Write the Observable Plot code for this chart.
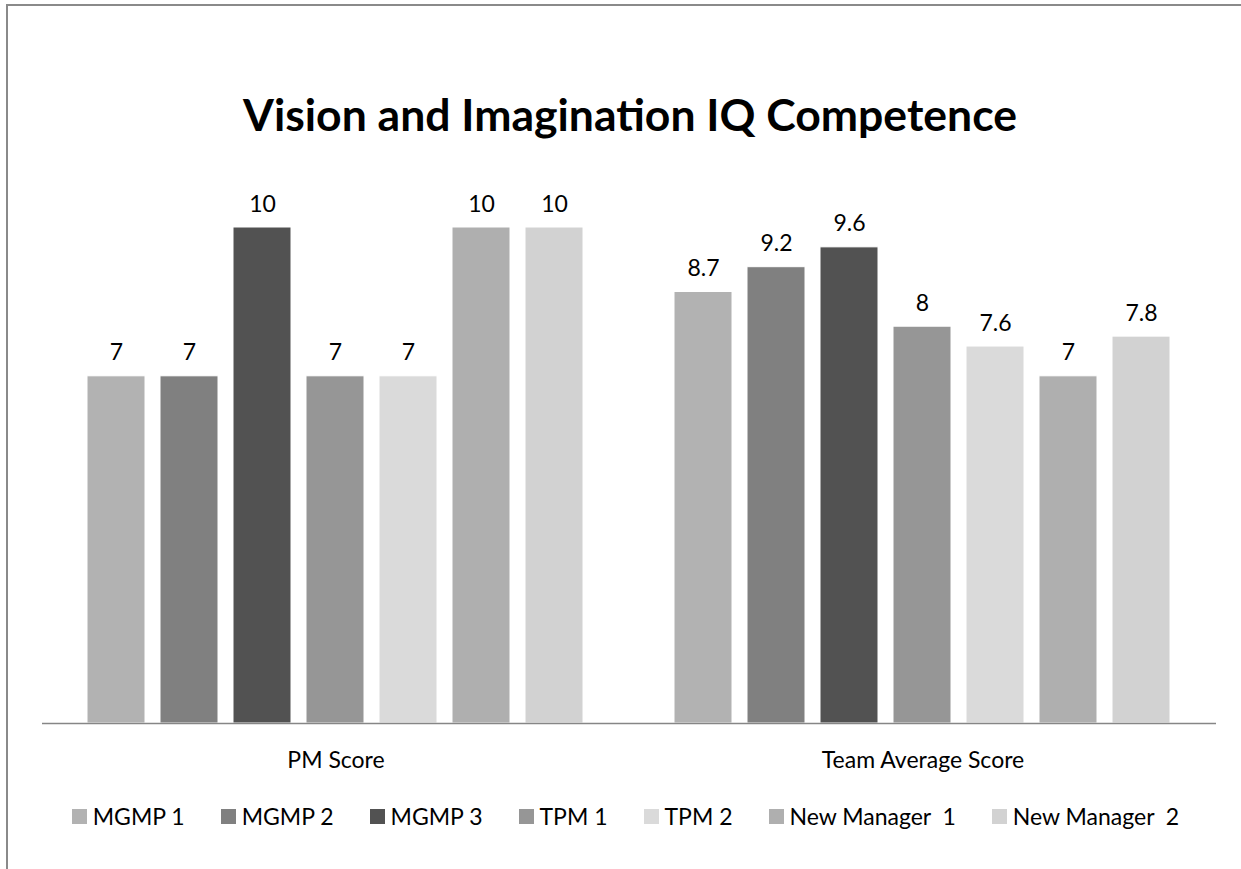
<!DOCTYPE html>
<html><head><meta charset="utf-8">
<script src="https://cdn.jsdelivr.net/npm/d3@7"></script>
<script src="https://cdn.jsdelivr.net/npm/@observablehq/plot@0.6"></script>
<style>
body{margin:0;background:#fff;font-family:Lato,"Open Sans",sans-serif;}
#page{position:relative;width:1241px;height:869px;overflow:hidden;background:#fff;}
#frame{position:absolute;left:6px;top:4px;right:0;bottom:0;border-top:2px solid #8a8a8a;border-left:2px solid #8a8a8a;}
#title{position:absolute;top:92px;left:0;width:1260px;text-align:center;font-weight:700;font-size:44.5px;line-height:44px;color:#000;white-space:nowrap;}
#chart{position:absolute;top:180px;left:0;}
#legend{position:absolute;top:805px;left:0;width:1251px;height:23px;display:flex;justify-content:center;align-items:center;font-size:23px;line-height:23px;color:#000;}
.item{display:flex;align-items:center;margin:0 18px;white-space:pre;}
.sw{width:15px;height:15px;margin-right:6px;display:inline-block;}
</style></head>
<body><div id="page"><div id="frame"></div><div id="title">Vision and Imagination IQ Competence</div><div id="chart"></div><div id="legend"></div></div>
<script>
const groups = ["PM Score", "Team Average Score"];
const series = ["MGMP 1", "MGMP 2", "MGMP 3", "TPM 1", "TPM 2", "New Manager  1", "New Manager  2"];
const pmScore = [7, 7, 10, 7, 7, 10, 10];
const teamAverage = [8.7, 9.2, 9.6, 8, 7.6, 7, 7.8];
const colors = ["#b2b2b2", "#808080", "#525252", "#969696", "#dadada", "#afafaf", "#d2d2d2"];

const data = [
  ...series.map((s, i) => ({group: groups[0], series: s, value: pmScore[i]})),
  ...series.map((s, i) => ({group: groups[1], series: s, value: teamAverage[i]}))
];

const chart = Plot.plot({
  width: 1241, height: 610,
  marginTop: 47, marginBottom: 67, marginLeft: 41, marginRight: 25,
  style: {fontFamily: "Lato, 'Open Sans', sans-serif", fontSize: "23px", color: "#000", background: "transparent", overflow: "visible"},
  fx: {domain: groups, paddingInner: 0, paddingOuter: 0, label: null},
  x: {domain: series, paddingInner: 0.2, paddingOuter: 0.6, axis: null},
  y: {domain: [0, 10], axis: null},
  color: {domain: series, range: colors},
  marks: [
    Plot.barY(data, {fx: "group", x: "series", y: "value", fill: "series", stroke: "#ffffff", strokeWidth: 1}),
    Plot.text(data, {fx: "group", x: "series", y: "value", text: d => String(d.value), lineAnchor: "bottom", dy: -16, fill: "#000", fontSize: 23}),
    Plot.axisFx({anchor: "bottom", tickSize: 0, tickPadding: 28, fontSize: 23, label: null}),
    Plot.ruleY([0], {stroke: "#868686", strokeWidth: 1.5})
  ]
});
document.getElementById("chart").appendChild(chart);

const legend = document.getElementById("legend");
series.forEach((s, i) => {
  const item = document.createElement("div");
  item.className = "item";
  const sw = document.createElement("span");
  sw.className = "sw";
  sw.style.background = colors[i];
  const label = document.createElement("span");
  label.textContent = s;
  item.appendChild(sw);
  item.appendChild(label);
  legend.appendChild(item);
});
</script>
</body></html>
